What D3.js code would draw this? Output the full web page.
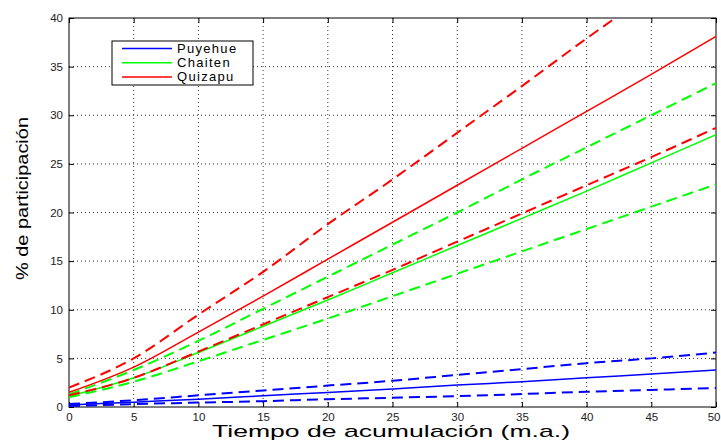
<!DOCTYPE html>
<html>
<head>
<meta charset="utf-8">
<script src="https://cdn.jsdelivr.net/npm/d3@7"></script>
<style>
  body { margin: 0; background: #fff; }
  text { font-family: "Liberation Sans", Arial, sans-serif; }
</style>
</head>
<body>
<svg id="chart" width="721" height="443"></svg>
<script>
// time axis (m.a.)
const years = [0, 5, 10, 15, 20, 25, 30, 35, 40, 45, 50];

// % de participacion, mid / upper / lower for each volcano
const puyehue = [0.2, 0.5, 0.8, 1.15, 1.5, 1.85, 2.25, 2.6, 3.0, 3.4, 3.8];
const puyehueHi = [0.3, 0.7, 1.2, 1.7, 2.2, 2.7, 3.3, 3.9, 4.5, 5.0, 5.6];
const puyehueLo = [0.1, 0.3, 0.45, 0.6, 0.8, 0.95, 1.12, 1.33, 1.57, 1.75, 1.95];

const chaiten = [1.1, 3.0, 5.6, 8.3, 11.0, 13.8, 16.6, 19.4, 22.2, 25.1, 28.0];
const chaitenHi = [1.3, 3.8, 6.8, 10.1, 13.4, 16.7, 20.0, 23.4, 26.7, 30.0, 33.3];
const chaitenLo = [1.0, 2.6, 4.7, 6.9, 9.1, 11.4, 13.7, 16.0, 18.3, 20.6, 22.9];

const quizapu = [1.5, 4.1, 7.7, 11.4, 15.2, 19.0, 22.8, 26.6, 30.4, 34.2, 38.1];
const quizapuHi = [2.0, 5.0, 9.5, 13.9, 18.8, 23.4, 28.2, 33.0, 37.9, 42.6, 47.4];
const quizapuLo = [1.2, 3.0, 5.7, 8.5, 11.3, 14.1, 17.0, 19.9, 22.8, 25.7, 28.7];

const xTicks = [0, 5, 10, 15, 20, 25, 30, 35, 40, 45, 50];
const yTicks = [0, 5, 10, 15, 20, 25, 30, 35, 40];

const seriesNames = ["Puyehue", "Chaiten", "Quizapu"];
const seriesColors = ["#0000ff", "#00ff00", "#ff0000"];

let svg = d3.select("#chart");
let margin = { top: 18, right: 5, bottom: 36, left: 69 };
let width = 721 - margin.left - margin.right;
let height = 443 - margin.top - margin.bottom;

let x = d3.scaleLinear().domain([0, 50]).range([0, width]);
let y = d3.scaleLinear().domain([0, 40]).range([height, 0]);

let g = svg.append("g")
    .attr("transform", "translate(" + margin.left + "," + margin.top + ")");

// clip to plot box
svg.append("defs").append("clipPath")
    .attr("id", "clip")
    .append("rect")
    .attr("width", width)
    .attr("height", height);

// dotted grid
g.append("g")
    .selectAll("line")
    .data(xTicks.slice(1, -1))
    .join("line")
    .attr("x1", d => x(d)).attr("x2", d => x(d))
    .attr("y1", 0).attr("y2", height)
    .attr("stroke", "#333")
    .attr("stroke-width", 1)
    .attr("stroke-dasharray", "1,3");

g.append("g")
    .selectAll("line")
    .data(yTicks.slice(1, -1))
    .join("line")
    .attr("y1", d => y(d)).attr("y2", d => y(d))
    .attr("x1", 0).attr("x2", width)
    .attr("stroke", "#333")
    .attr("stroke-width", 1)
    .attr("stroke-dasharray", "1,3");

// axes with inward ticks on all four sides
let axisStyle = function(sel) {
    sel.select(".domain").remove();
    sel.selectAll("text")
        .attr("fill", "#222")
        .style("font-size", "11.5px");
    sel.selectAll(".tick line").attr("stroke", "#000");
};

g.append("g")
    .attr("transform", "translate(0," + height + ")")
    .call(d3.axisBottom(x).tickValues(xTicks).tickSizeInner(-5).tickPadding(6))
    .call(axisStyle)
    .selectAll(".tick:last-child text")
    .attr("text-anchor", "end")
    .attr("dx", "4");

g.append("g")
    .call(d3.axisTop(x).tickValues(xTicks).tickSizeInner(-5).tickFormat(""))
    .call(axisStyle);

g.append("g")
    .call(d3.axisLeft(y).tickValues(yTicks).tickSizeInner(-5).tickPadding(6))
    .call(axisStyle);

g.append("g")
    .attr("transform", "translate(" + width + ",0)")
    .call(d3.axisRight(y).tickValues(yTicks).tickSizeInner(-5).tickFormat(""))
    .call(axisStyle);

g.append("rect")
    .attr("width", width)
    .attr("height", height)
    .attr("fill", "none")
    .attr("stroke", "#000")
    .attr("stroke-width", 1);

// lines
let line = d3.line()
    .x(d => x(d[0]))
    .y(d => y(d[1]))
    .curve(d3.curveMonotoneX);

let groups = [
    [puyehue, puyehueHi, puyehueLo],
    [chaiten, chaitenHi, chaitenLo],
    [quizapu, quizapuHi, quizapuLo]
];

let lines = g.append("g").attr("clip-path", "url(#clip)");

for (let i = 0; i < groups.length; i++) {
    for (let j = 0; j < 3; j++) {
        let pts = years.map((yr, k) => [yr, groups[i][j][k]]);
        lines.append("path")
            .datum(pts)
            .attr("fill", "none")
            .attr("stroke", seriesColors[i])
            .attr("stroke-width", j == 0 ? 1.5 : 2)
            .attr("stroke-dasharray", j == 0 ? null : "11,6")
            .attr("d", line);
    }
}

// legend
let legend = svg.append("g").attr("transform", "translate(112,41)");
legend.append("rect")
    .attr("width", 141)
    .attr("height", 44)
    .attr("fill", "#fff")
    .attr("stroke", "#000")
    .attr("stroke-width", 1);

seriesNames.forEach(function(name, i) {
    let ly = 7.5 + i * 14.2;
    legend.append("line")
        .attr("x1", 10).attr("x2", 60)
        .attr("y1", ly).attr("y2", ly)
        .attr("stroke", seriesColors[i])
        .attr("stroke-width", 1.5);
    legend.append("text")
        .attr("x", 65)
        .attr("y", ly + 4.5)
        .attr("fill", "#000")
        .style("font-size", "13px")
        .style("letter-spacing", "1.3px")
        .text(name);
});

// axis titles
svg.append("text")
    .attr("x", 391)
    .attr("y", 437)
    .attr("text-anchor", "middle")
    .attr("fill", "#000")
    .attr("textLength", 358)
    .attr("lengthAdjust", "spacingAndGlyphs")
    .style("font-size", "17px")
    .text("Tiempo de acumulación (m.a.)");

svg.append("text")
    .attr("transform", "translate(28,198.5) rotate(-90)")
    .attr("text-anchor", "middle")
    .attr("fill", "#000")
    .attr("textLength", 163)
    .attr("lengthAdjust", "spacingAndGlyphs")
    .style("font-size", "17px")
    .text("% de participación");
</script>
</body>
</html>
